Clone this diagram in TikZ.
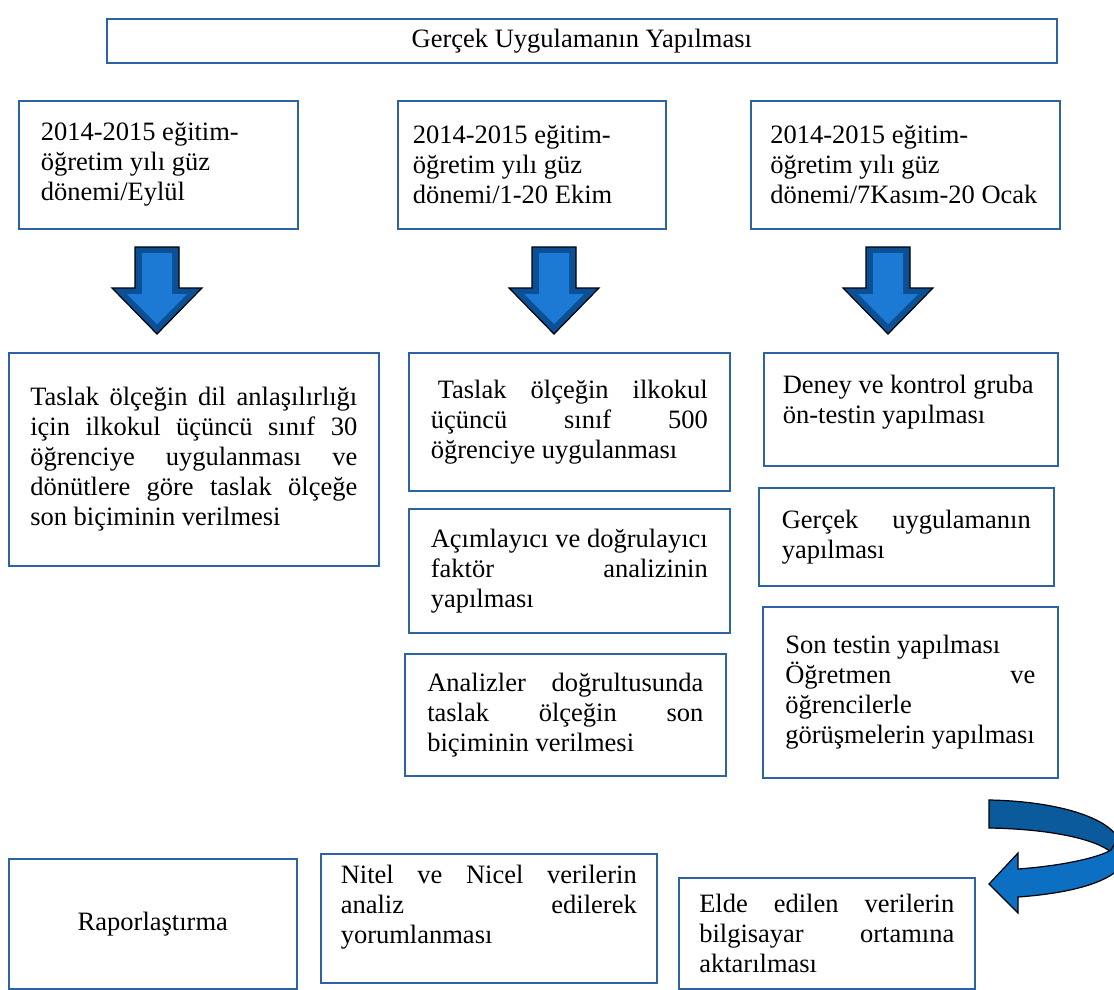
\documentclass[tikz,border=0pt]{standalone}
\usepackage{fontspec}
\setmainfont{Liberation Serif}
\usetikzlibrary{positioning}
\definecolor{boxline}{HTML}{2B63A3}
\definecolor{arrowdark}{HTML}{0B4F95}
\definecolor{arrowlight}{HTML}{1C7AD4}
\definecolor{bendback}{HTML}{0A5A9C}
\definecolor{bendfront}{HTML}{0C6FC1}
\tolerance=9999
\hyphenpenalty=10000
\hbadness=10000

\tikzset{
  stage/.style={draw=boxline, line width=1.6pt, fill=white, anchor=north west, inner sep=0pt,
    font=\fontsize{26.5}{30}\selectfont},
  justbox/.style={stage, align=justify},
  leftbox/.style={stage, align=flush left}
}

% blue block arrow pointing down, centred at x
\newcommand{\downblock}[1]{%
  \begin{scope}[shift={(#1,0)}]
    \draw[line width=1.2pt, fill=arrowdark] (-22,247) -- (22,247) -- (22,288) -- (45,288) -- (0,334) -- (-45,288) -- (-22,288) -- cycle;
    \fill[arrowlight] (-15,253) -- (15,253) -- (15,294) -- (30,294) -- (0,324) -- (-30,294) -- (-15,294) -- cycle;
  \end{scope}}

\begin{document}
\begin{tikzpicture}[x=1pt, y=-1pt]
    \useasboundingbox (0,0) rectangle (1114,990);

    % Title
    \node[stage, minimum width=950pt, minimum height=44pt] (title) at (106,18) {Gerçek Uygulamanın Yapılması};

    % Periods
    \node[leftbox, text width=235pt, minimum width=279pt, minimum height=128pt] (eylul) at (18,100)
        {2014-2015 eğitim-\\öğretim yılı güz\\dönemi/Eylül};
    \node[leftbox, text width=238pt, minimum width=268pt, minimum height=128pt] (ekim) at (397,100)
        {2014-2015 eğitim-\\öğretim yılı güz\\dönemi/1-20 Ekim};
    \node[leftbox, text width=270pt, minimum width=309pt, minimum height=128pt] (ocak) at (750,100)
        {2014-2015 eğitim-\\öğretim yılı güz\\dönemi/7Kasım-20 Ocak};

    % Arrows
    \downblock{157}
    \downblock{554}
    \downblock{888}

    % First column
    \node[justbox, text width=327pt, minimum width=370pt, minimum height=213pt] (pilot) at (8,352)
        {Taslak ölçeğin dil anlaşılırlığı\linebreak için ilkokul üçüncü sınıf 30\linebreak öğrenciye uygulanması ve\linebreak dönütlere göre taslak ölçeğe\linebreak son biçiminin verilmesi};

    % Second column
    \node[justbox, text width=277pt, minimum width=321pt, minimum height=138pt] (uygula) at (408,352)
        {\hspace*{7pt}Taslak ölçeğin ilkokul\linebreak üçüncü sınıf 500\linebreak öğrenciye uygulanması};
    \node[justbox, text width=277pt, minimum width=321pt, minimum height=124pt] (faktor) at (408,508)
        {Açımlayıcı ve doğrulayıcı\linebreak faktör analizinin\linebreak yapılması};
    \node[justbox, text width=276pt, minimum width=321pt, minimum height=122pt] (sonbicim) at (404,653)
        {Analizler doğrultusunda\linebreak taslak ölçeğin son\linebreak biçiminin verilmesi};

    % Third column
    \node[leftbox, text width=256pt, minimum width=294pt, minimum height=113pt] (ontest) at (763,352)
        {Deney ve kontrol gruba\\ön-testin yapılması\rule[-20pt]{0pt}{0pt}};
    \node[justbox, text width=249pt, minimum width=295pt, minimum height=98pt] (gercek) at (758,487)
        {Gerçek uygulamanın\linebreak yapılması};
    \node[justbox, text width=250pt, minimum width=295pt, minimum height=171pt] (sontest) at (762,606)
        {Son testin yapılması\\Öğretmen ve\linebreak öğrencilerle\\görüşmelerin yapılması};

    % Bent arrow
    \begin{scope}
        \clip (0,0) rectangle (1114,990);
        \draw[line width=1.2pt, fill=bendback] (989,800) .. controls (1050,801) and (1105,815) .. (1118,838)
            -- (1111,852) .. controls (1095,839) and (1050,829) .. (989,828) -- cycle;
        \draw[line width=1.2pt, fill=bendfront] (1018,869) .. controls (1060,866) and (1098,858) .. (1111,850)
            -- (1118,838) -- (1118,870) .. controls (1100,886) and (1060,894) .. (1018,897)
            -- (1018,913) -- (989,884) -- (1018,853) -- cycle;
    \end{scope}

    % Last row
    \node[stage, minimum width=288pt, minimum height=130pt] (rapor) at (8,858) {Raporlaştırma};
    \node[justbox, text width=296pt, minimum width=336pt, minimum height=129pt] (analiz) at (320,853)
        {Nitel ve Nicel verilerin\linebreak analiz edilerek\linebreak yorumlanması\rule[-28pt]{0pt}{0pt}};
    \node[justbox, text width=255pt, minimum width=296pt, minimum height=111pt] (aktar) at (678,877)
        {Elde edilen verilerin\linebreak bilgisayar ortamına\linebreak aktarılması};
\end{tikzpicture}
\end{document}
